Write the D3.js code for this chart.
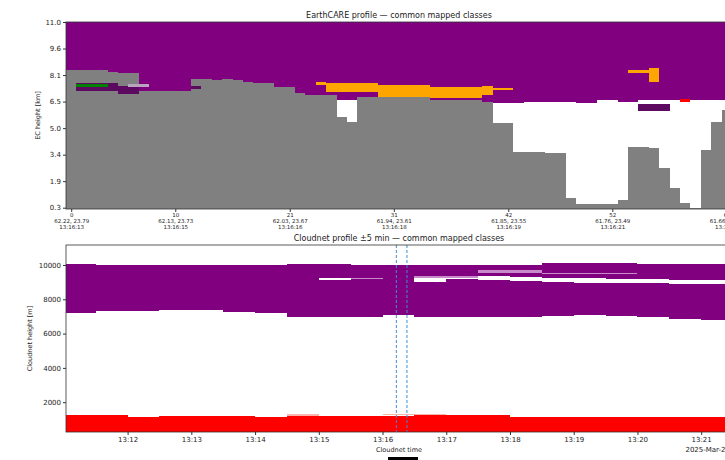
<!DOCTYPE html>
<html>
<head>
<meta charset="utf-8">
<script src="https://cdn.jsdelivr.net/npm/d3@7"></script>
<style>
  body { margin: 0; background: #fff; overflow: hidden; }
  svg { display: block; }
</style>
</head>
<body>
<div id="chart"></div>
<script>
// ---------- EarthCARE profile (top panel), one value per along-track column ----------
const ecYTicks = [0.3, 1.9, 3.4, 5.0, 6.5, 8.1, 9.6, 11.0];
const ecTickIdx = [0, 10, 21, 31, 42, 52, 63];
const ecTickLatLon = ["62.22, 23.79", "62.13, 23.73", "62.03, 23.67", "61.94, 23.61",
                      "61.85, 23.55", "61.76, 23.49", "61.66, 23.43"];
const ecTickTime = ["13:16:13", "13:16:15", "13:16:16", "13:16:18", "13:16:19", "13:16:21", "13:16:23"];

// top of the grey block (km)
const ecGreyTop = [
  8.39, 8.39, 8.39, 8.39, 8.28, 8.20, 8.20, 7.16, 7.16, 7.16,
  7.16, 7.16, 7.86, 7.86, 7.80, 7.88, 7.80, 7.70, 7.62, 7.62,
  7.38, 7.38, 7.02, 6.90, 6.90, 6.90, 5.63, 5.34, 6.80, 6.80,
  6.80, 6.80, 6.80, 6.80, 6.80, 6.60, 6.60, 6.60, 6.60, 6.60,
  6.49, 5.29, 5.29, 3.56, 3.56, 3.56, 3.50, 3.50, 0.88, 0.52,
  0.52, 0.52, 0.52, 0.76, 3.86, 3.86, 3.80, 2.65, 1.49, 0.58,
  0.31, 3.68, 5.34, 6.03
];
// base of the ice layer (km); clear between grey top and this
const ecIceBase = [
  8.39, 8.39, 8.39, 8.39, 8.28, 8.20, 8.20, 7.16, 7.16, 7.16,
  7.16, 7.16, 7.86, 7.86, 7.80, 7.88, 7.80, 7.70, 7.62, 7.62,
  7.38, 7.38, 7.02, 6.90, 6.90, 6.90, 6.60, 6.60, 6.80, 6.80,
  6.80, 6.80, 6.80, 6.80, 6.80, 6.60, 6.60, 6.60, 6.60, 6.60,
  6.49, 6.41, 6.41, 6.41, 6.47, 6.47, 6.47, 6.47, 6.47, 6.41,
  6.41, 6.60, 6.60, 6.47, 6.47, 6.60, 6.60, 6.60, 6.60, 6.60,
  6.60, 6.60, 6.60, 6.60
];
// small patches: [first col, last col, bottom km, top km, class]
const ecPatches = [
  [1, 4, 7.16, 7.60, "dark"],
  [1, 3, 7.36, 7.56, "green"],
  [5, 6, 6.96, 7.44, "dark"],
  [6, 7, 7.38, 7.56, "light"],
  [12, 12, 7.26, 7.44, "dark"],
  [24, 24, 7.50, 7.68, "mixed"],
  [25, 29, 7.10, 7.60, "mixed"],
  [30, 34, 6.80, 7.50, "mixed"],
  [35, 39, 6.70, 7.38, "mixed"],
  [40, 40, 6.90, 7.44, "mixed"],
  [41, 42, 7.20, 7.32, "mixed"],
  [54, 55, 8.22, 8.39, "mixed"],
  [56, 56, 7.68, 8.50, "mixed"],
  [59, 59, 6.47, 6.66, "liquid"],
  [55, 57, 5.96, 6.36, "dark"]
];

// ---------- Cloudnet profile (bottom panel), 30 s bins ----------
const cnDay = "2025-03-22";
const cnTimeRange = ["13:11:02", "13:21:29"];
const cnHeightRange = [262, 11166];
const cnYTicks = [2000, 4000, 6000, 8000, 10000];
const cnBinStart = ["13:11:00", "13:11:30", "13:12:00", "13:12:30", "13:13:00", "13:13:30",
                    "13:14:00", "13:14:30", "13:15:00", "13:15:30", "13:16:00", "13:16:30",
                    "13:17:00", "13:17:30", "13:18:00", "13:18:30", "13:19:00", "13:19:30",
                    "13:20:00", "13:20:30", "13:21:00"];
const cnIceTop = [10040, 10000, 10000, 10000, 10000, 10000, 10000, 10040, 10040, 10020,
                  10020, 10000, 10000, 10000, 10000, 10100, 10100, 10100, 10058, 10041, 10041];
const cnIceBase = [7184, 7335, 7335, 7376, 7376, 7277, 7184, 6985, 6985, 6985,
                   7085, 6950, 6950, 6950, 6950, 7030, 7085, 7026, 6950, 6834, 6793];
const cnLiquidTop = [1236, 1236, 1155, 1175, 1175, 1175, 1155, 1195, 1195, 1195,
                     1195, 1254, 1254, 1230, 1155, 1155, 1155, 1155, 1120, 1120, 1155];
// [first bin, last bin, bottom m, top m, class]
const cnPatches = [
  [8, 8, 9125, 9259, "clear"],
  [9, 9, 9200, 9259, "pale"],
  [11, 11, 9026, 9224, "clear"],
  [12, 12, 9184, 9318, "clear"],
  [13, 13, 9150, 9380, "clear"],
  [14, 14, 9090, 9318, "clear"],
  [15, 15, 9026, 9259, "clear"],
  [16, 16, 8968, 9224, "clear"],
  [17, 17, 8968, 9166, "clear"],
  [18, 18, 8930, 9166, "clear"],
  [19, 20, 8892, 9125, "clear"],
  [11, 12, 9260, 9340, "pale"],
  [13, 14, 9560, 9700, "pale"],
  [15, 17, 9450, 9560, "pale"],
  [7, 7, 1195, 1320, "pink"],
  [10, 11, 1254, 1330, "pink"]
];
const overpassTimes = ["13:16:13", "13:16:23"];

const classColors = {
  ice: "#800080", grey: "#808080", mixed: "#ffa500", liquid: "#ff0000",
  green: "#008000", dark: "#5c0a60", light: "#b9a3bd", clear: "#ffffff",
  pale: "#c98ac9", pink: "#f7b5ad"
};

const font = "'DejaVu Sans', sans-serif";
const ecBox = {x0: 66, x1: 732, y0: 22, y1: 209};
const cnBox = {x0: 66, x1: 732, y0: 245, y1: 432};

const svg = d3.select("#chart").append("svg")
    .attr("width", 725)
    .attr("height", 460)
    .attr("font-family", font);

// ================= top panel =================
const xEc = d3.scaleLinear()
    .domain([-0.5, ecGreyTop.length - 0.5])
    .range([ecBox.x0, ecBox.x1]);

// tick heights sit on evenly spaced range-bins
const ecTickY0 = 207.7;
const ecStep = (ecTickY0 - ecBox.y0) / (ecYTicks.length - 1);
const yEc = d3.scaleLinear()
    .domain(ecYTicks)
    .range(ecYTicks.map((d, i) => ecTickY0 - i * ecStep));

const ecCols = ecGreyTop.map((g, i) => ({i, grey: g, base: ecIceBase[i]}));
const ecG = svg.append("g").attr("shape-rendering", "crispEdges");
const colX = i => xEc(i - 0.5);
const colW = (a, b) => xEc(b + 0.5) - xEc(a - 0.5);

ecG.selectAll(".ice").data(ecCols).join("rect")
    .attr("x", d => colX(d.i)).attr("width", d => colW(d.i, d.i))
    .attr("y", yEc(11.0)).attr("height", d => yEc(d.base) - yEc(11.0))
    .attr("fill", classColors.ice);

ecG.selectAll(".clr").data(ecCols.filter(d => d.base > d.grey)).join("rect")
    .attr("x", d => colX(d.i)).attr("width", d => colW(d.i, d.i))
    .attr("y", d => yEc(d.base)).attr("height", d => yEc(d.grey) - yEc(d.base))
    .attr("fill", classColors.clear);

ecG.selectAll(".grey").data(ecCols).join("rect")
    .attr("x", d => colX(d.i)).attr("width", d => colW(d.i, d.i))
    .attr("y", d => yEc(d.grey)).attr("height", d => ecBox.y1 - yEc(d.grey))
    .attr("fill", classColors.grey);

ecG.selectAll(".patch").data(ecPatches).join("rect")
    .attr("x", d => colX(d[0])).attr("width", d => colW(d[0], d[1]))
    .attr("y", d => yEc(d[3])).attr("height", d => yEc(d[2]) - yEc(d[3]))
    .attr("fill", d => classColors[d[4]]);

// frame
svg.append("rect")
    .attr("x", ecBox.x0).attr("y", ecBox.y0)
    .attr("width", ecBox.x1 - ecBox.x0).attr("height", ecBox.y1 - ecBox.y0)
    .attr("fill", "none").attr("stroke", "#333").attr("stroke-width", 0.8);

// axes
const ecYAxis = svg.append("g")
    .attr("transform", `translate(${ecBox.x0},0)`)
    .call(d3.axisLeft(yEc).tickValues(ecYTicks).tickFormat(d3.format(".1f")).tickSize(3).tickPadding(2))
    .call(g => g.select(".domain").remove());
ecYAxis.attr("font-size", 7).attr("font-family", font);
ecYAxis.selectAll("text").attr("fill", "#222");
ecYAxis.selectAll("line").attr("stroke", "#333");

const ecXAxis = svg.append("g")
    .attr("transform", `translate(0,${ecBox.y1})`)
    .call(d3.axisBottom(xEc).tickValues(ecTickIdx).tickSize(3).tickPadding(1.5))
    .call(g => g.select(".domain").remove());
ecXAxis.attr("font-size", 5.5).attr("font-family", font);
ecXAxis.selectAll("line").attr("stroke", "#333");
ecXAxis.selectAll(".tick text").each(function(d, i) {
  const t = d3.select(this).text(null).attr("fill", "#222");
  [String(d), ecTickLatLon[i], ecTickTime[i]].forEach((s, j) => {
    t.append("tspan").attr("x", 0).attr("dy", j ? "1.05em" : "0.71em").text(s);
  });
});

svg.append("text")
    .attr("transform", `translate(38.5,${(ecBox.y0 + ecBox.y1) / 2}) rotate(-90)`)
    .attr("text-anchor", "middle")
    .attr("dominant-baseline", "middle")
    .attr("font-size", 6.5)
    .attr("fill", "#222")
    .text("EC height [km]");

svg.append("text")
    .attr("x", (ecBox.x0 + ecBox.x1) / 2)
    .attr("y", 17.5)
    .attr("text-anchor", "middle")
    .attr("font-size", 8)
    .attr("fill", "#222")
    .text("EarthCARE profile \u2014 common mapped classes");

// ================= bottom panel =================
const parseT = t => d3.timeParse("%Y-%m-%d %H:%M:%S")(`${cnDay} ${t}`);

const xCn = d3.scaleTime()
    .domain(cnTimeRange.map(parseT))
    .range([cnBox.x0, cnBox.x1]);

const yCn = d3.scaleLinear()
    .domain(cnHeightRange)
    .range([cnBox.y1, cnBox.y0]);

const bins = cnBinStart.map((s, i) => {
  const t0 = parseT(s);
  return {i, t0, t1: d3.timeSecond.offset(t0, 30),
          top: cnIceTop[i], base: cnIceBase[i], liq: cnLiquidTop[i]};
});

const cnG = svg.append("g").attr("shape-rendering", "crispEdges");
cnG.append("clipPath").attr("id", "cnclip").append("rect")
    .attr("x", cnBox.x0).attr("y", cnBox.y0)
    .attr("width", cnBox.x1 - cnBox.x0).attr("height", cnBox.y1 - cnBox.y0);
cnG.attr("clip-path", "url(#cnclip)");

cnG.selectAll(".ice").data(bins).join("rect")
    .attr("x", d => xCn(d.t0)).attr("width", d => xCn(d.t1) - xCn(d.t0))
    .attr("y", d => yCn(d.top)).attr("height", d => yCn(d.base) - yCn(d.top))
    .attr("fill", classColors.ice);

cnG.selectAll(".liq").data(bins).join("rect")
    .attr("x", d => xCn(d.t0)).attr("width", d => xCn(d.t1) - xCn(d.t0))
    .attr("y", d => yCn(d.liq)).attr("height", d => yCn(cnHeightRange[0]) - yCn(d.liq))
    .attr("fill", classColors.liquid);

cnG.selectAll(".patch").data(cnPatches).join("rect")
    .attr("x", d => xCn(bins[d[0]].t0)).attr("width", d => xCn(bins[d[1]].t1) - xCn(bins[d[0]].t0))
    .attr("y", d => yCn(d[3])).attr("height", d => yCn(d[2]) - yCn(d[3]))
    .attr("fill", d => classColors[d[4]]);

// overpass window
svg.selectAll(".overpass").data(overpassTimes.map(parseT)).join("line")
    .attr("x1", d => xCn(d)).attr("x2", d => xCn(d))
    .attr("y1", cnBox.y0).attr("y2", cnBox.y1)
    .attr("stroke", "#3b8fd6").attr("stroke-width", 1)
    .attr("stroke-dasharray", "3,2");

svg.append("rect")
    .attr("x", cnBox.x0).attr("y", cnBox.y0)
    .attr("width", cnBox.x1 - cnBox.x0).attr("height", cnBox.y1 - cnBox.y0)
    .attr("fill", "none").attr("stroke", "#333").attr("stroke-width", 0.8);

const cnYAxis = svg.append("g")
    .attr("transform", `translate(${cnBox.x0},0)`)
    .call(d3.axisLeft(yCn).tickValues(cnYTicks).tickFormat(d3.format("d")).tickSize(3).tickPadding(2))
    .call(g => g.select(".domain").remove());
cnYAxis.attr("font-size", 7).attr("font-family", font);
cnYAxis.selectAll("text").attr("fill", "#222");
cnYAxis.selectAll("line").attr("stroke", "#333");

const cnXAxis = svg.append("g")
    .attr("transform", `translate(0,${cnBox.y1})`)
    .call(d3.axisBottom(xCn).ticks(d3.timeMinute.every(1)).tickFormat(d3.timeFormat("%H:%M")).tickSize(3).tickPadding(2))
    .call(g => g.select(".domain").remove());
cnXAxis.attr("font-size", 7).attr("font-family", font);
cnXAxis.selectAll("text").attr("fill", "#222");
cnXAxis.selectAll("line").attr("stroke", "#333");

svg.append("text")
    .attr("x", cnBox.x1 - 2)
    .attr("y", 452)
    .attr("text-anchor", "end")
    .attr("font-size", 7)
    .attr("fill", "#222")
    .text(d3.timeFormat("%Y-%b-%d")(parseT("00:00:00")));

svg.append("text")
    .attr("x", (cnBox.x0 + cnBox.x1) / 2)
    .attr("y", 451.5)
    .attr("text-anchor", "middle")
    .attr("font-size", 6.5)
    .attr("fill", "#222")
    .text("Cloudnet time");

svg.append("text")
    .attr("transform", `translate(30.5,${(cnBox.y0 + cnBox.y1) / 2}) rotate(-90)`)
    .attr("text-anchor", "middle")
    .attr("dominant-baseline", "middle")
    .attr("font-size", 6.5)
    .attr("fill", "#222")
    .text("Cloudnet height [m]");

svg.append("text")
    .attr("x", (cnBox.x0 + cnBox.x1) / 2)
    .attr("y", 241)
    .attr("text-anchor", "middle")
    .attr("font-size", 8)
    .attr("fill", "#222")
    .text("Cloudnet profile \u00b15 min \u2014 common mapped classes");

// top edge of the legend box below the axes
svg.append("rect")
    .attr("x", 388).attr("y", 457)
    .attr("width", 30).attr("height", 4)
    .attr("fill", "#000");
</script>
</body>
</html>
